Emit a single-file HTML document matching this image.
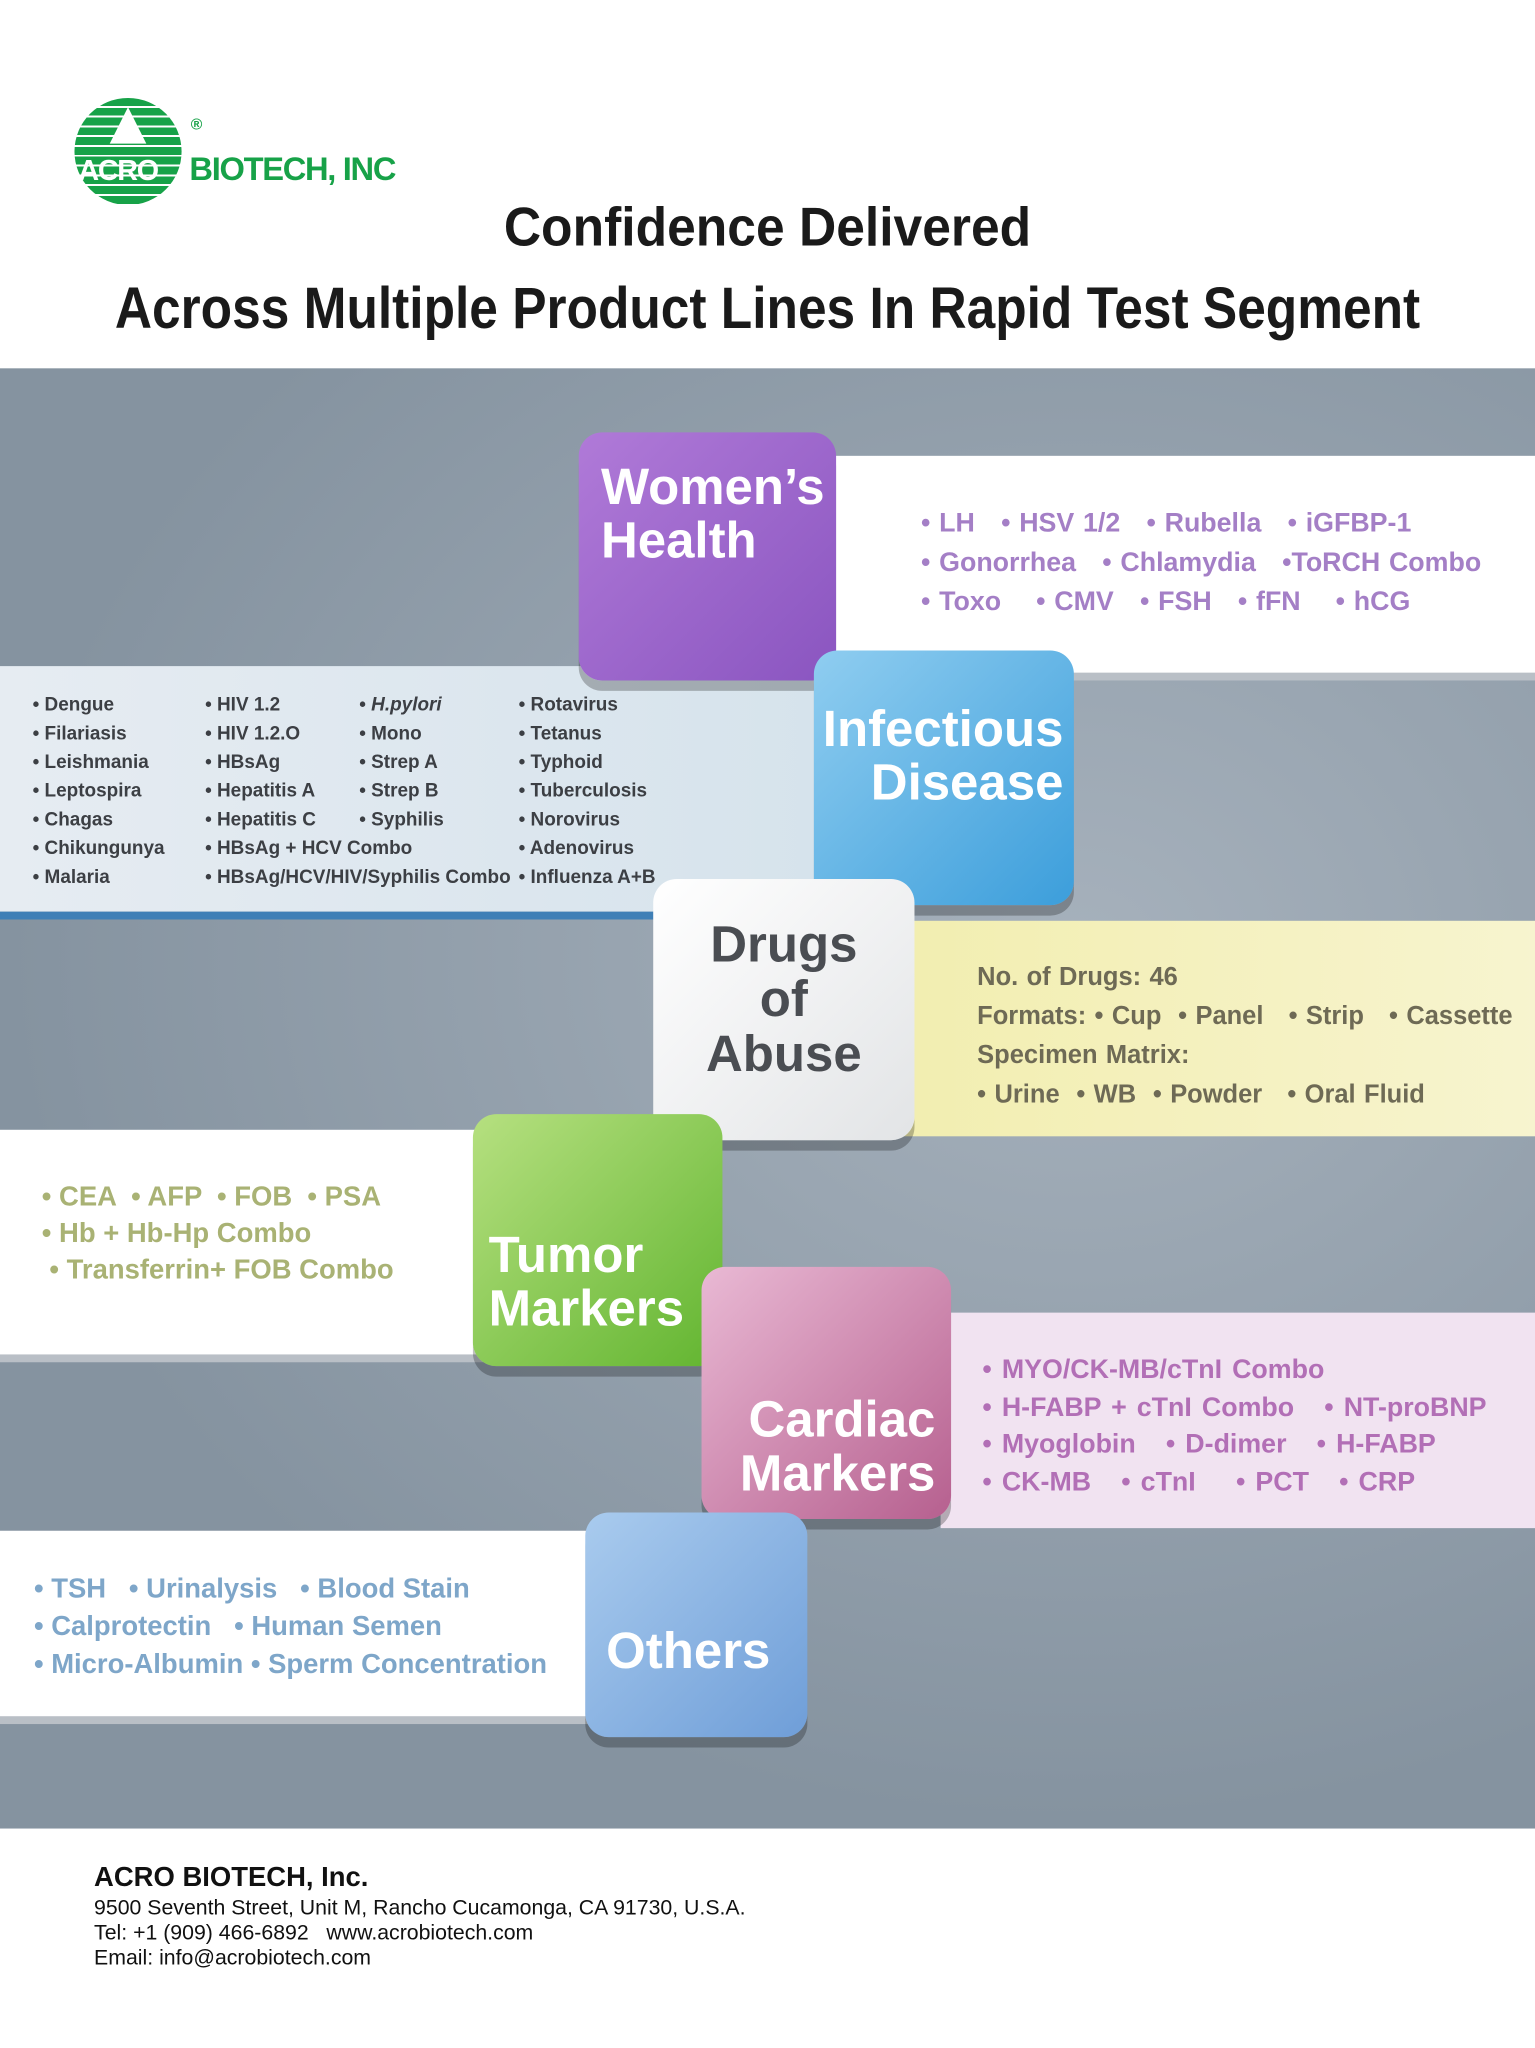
<!DOCTYPE html>
<html><head><meta charset="utf-8"><style>
html,body{margin:0;padding:0;background:#fff;width:1535px;height:2048px;overflow:hidden}
#w{position:absolute;left:0;top:0;width:1175px;height:1568px;transform:scale(1.3064,1.3061);transform-origin:0 0;font-family:"Liberation Sans",sans-serif;font-weight:bold}
.a{position:absolute}
.t{position:absolute;white-space:nowrap}
.box{position:absolute;border-radius:18px;color:#fff;font-size:39px;line-height:41px;box-shadow:0 8px 0 rgba(0,0,0,.25)}
.sm{font-size:14.5px;color:#3c3f44;line-height:22px}
</style></head><body><div id="w">
<!-- logo -->
<div class="a" style="left:57px;top:75px;width:82px;height:82px;border-radius:50%;background:repeating-linear-gradient(#17a248 0 6px,#fff 6px 7.5px)"></div>
<div class="a" style="left:84px;top:82px;width:0;height:0;border-left:14px solid transparent;border-right:14px solid transparent;border-bottom:28px solid #fff"></div>
<div class="t" style="left:60px;top:118px;font-size:22px;color:#fff;letter-spacing:-1px">ACRO</div>
<div class="t" style="left:146px;top:88px;font-size:12px;color:#17a248">®</div>
<div class="t" style="left:145px;top:116px;font-size:25px;color:#17a248;letter-spacing:-1px">BIOTECH, INC</div>
<div class="t" style="left:0;width:1175px;text-align:center;top:150px;font-size:42px;color:#1a1a1a;transform:scaleX(.94)">Confidence Delivered</div>
<div class="t" style="left:0;width:1175px;text-align:center;top:210px;font-size:45px;color:#1a1a1a;transform:scaleX(.875)">Across Multiple Product Lines In Rapid Test Segment</div>
<!-- gray band -->
<div class="a" style="left:0;top:282px;width:1175px;height:1118px;background:radial-gradient(ellipse at 70% 40%,#a6b1bc,#8593a0 70%)"></div>
<!-- women's band -->
<div class="a" style="left:620px;top:349px;width:555px;height:166px;background:#fff;box-shadow:0 6px 0 #b9bfc6"></div>
<div class="t" style="left:705px;top:386px;font-size:20.5px;color:#a47fc6;line-height:30px;word-spacing:1px">• LH &nbsp;&nbsp;• HSV 1/2 &nbsp;&nbsp;• Rubella &nbsp;&nbsp;• iGFBP-1<br>• Gonorrhea &nbsp;&nbsp;• Chlamydia &nbsp;&nbsp;•ToRCH Combo<br>• Toxo &nbsp;&nbsp;&nbsp;• CMV &nbsp;&nbsp;• FSH &nbsp;&nbsp;• fFN &nbsp;&nbsp;&nbsp;• hCG</div>
<!-- infectious band -->
<div class="a" style="left:0;top:510px;width:630px;height:188px;background:linear-gradient(90deg,#e6ecf2,#d6e3ec);border-bottom:6px solid #3f7fb6"></div>
<div class="t sm" style="left:25px;top:529px">• Dengue<br>• Filariasis<br>• Leishmania<br>• Leptospira<br>• Chagas<br>• Chikungunya<br>• Malaria</div>
<div class="t sm" style="left:157px;top:529px">• HIV 1.2<br>• HIV 1.2.O<br>• HBsAg<br>• Hepatitis A<br>• Hepatitis C<br>• HBsAg + HCV Combo<br>• HBsAg/HCV/HIV/Syphilis Combo</div>
<div class="t sm" style="left:275px;top:529px">• <i>H.pylori</i><br>• Mono<br>• Strep A<br>• Strep B<br>• Syphilis</div>
<div class="t sm" style="left:397px;top:529px">• Rotavirus<br>• Tetanus<br>• Typhoid<br>• Tuberculosis<br>• Norovirus<br>• Adenovirus<br>• Influenza A+B</div>
<!-- drugs band -->
<div class="a" style="left:690px;top:705px;width:485px;height:165px;background:linear-gradient(90deg,#f2eeb0,#f7f4cf)"></div>
<div class="t" style="left:748px;top:733px;font-size:19.5px;color:#6e6a55;line-height:30px;word-spacing:1px">No. of Drugs: 46<br>Formats: • Cup &nbsp;• Panel &nbsp;&nbsp;• Strip &nbsp;&nbsp;• Cassette<br>Specimen Matrix:<br>• Urine &nbsp;• WB &nbsp;• Powder &nbsp;&nbsp;• Oral Fluid</div>
<!-- tumor band -->
<div class="a" style="left:0;top:865px;width:370px;height:172px;background:#fff;box-shadow:0 6px 0 #b9bfc6"></div>
<div class="t" style="left:32px;top:903px;font-size:21px;color:#a9b274;line-height:28px">• CEA &nbsp;• AFP &nbsp;• FOB &nbsp;• PSA<br>• Hb + Hb-Hp Combo<br>&nbsp;• Transferrin+ FOB Combo</div>
<!-- cardiac band -->
<div class="a" style="left:720px;top:1005px;width:455px;height:165px;background:#f1e3f1"></div>
<div class="t" style="left:752px;top:1035px;font-size:20.5px;color:#b26fb6;line-height:28.5px;word-spacing:2px">• MYO/CK-MB/cTnI Combo<br>• H-FABP + cTnI Combo &nbsp;&nbsp;• NT-proBNP<br>• Myoglobin &nbsp;&nbsp;• D-dimer &nbsp;&nbsp;• H-FABP<br>• CK-MB &nbsp;&nbsp;• cTnI &nbsp;&nbsp;&nbsp;• PCT &nbsp;&nbsp;• CRP</div>
<!-- others band -->
<div class="a" style="left:0;top:1172px;width:455px;height:142px;background:#fff;box-shadow:0 6px 0 #b9bfc6"></div>
<div class="t" style="left:26px;top:1202px;font-size:21px;color:#7ea6c9;line-height:29px">• TSH &nbsp;&nbsp;• Urinalysis &nbsp;&nbsp;• Blood Stain<br>• Calprotectin &nbsp;&nbsp;• Human Semen<br>• Micro-Albumin • Sperm Concentration</div>
<!-- boxes -->
<div class="box" style="left:443px;top:331px;width:197px;height:190px;background:linear-gradient(135deg,#b07ad8,#8a55c0)"><div class="t" style="left:17px;top:22px">Women’s<br>Health</div></div>
<div class="box" style="left:623px;top:498px;width:199px;height:195px;background:linear-gradient(135deg,#8fcdf0,#3c9edb)"><div class="t" style="right:8px;top:40px;text-align:right">Infectious<br>Disease</div></div>
<div class="box" style="left:500px;top:673px;width:200px;height:200px;background:linear-gradient(135deg,#ffffff,#e2e4e6);color:#4a4d52"><div class="t" style="left:0;width:200px;text-align:center;top:30px;line-height:42px">Drugs<br>of<br>Abuse</div></div>
<div class="box" style="left:362px;top:853px;width:191px;height:193px;background:linear-gradient(135deg,#b6e080,#62b530)"><div class="t" style="left:12px;top:88px">Tumor<br>Markers</div></div>
<div class="box" style="left:537px;top:970px;width:191px;height:193px;background:linear-gradient(135deg,#e9b9d4,#b6608f)"><div class="t" style="right:12px;top:97px;text-align:right">Cardiac<br>Markers</div></div>
<div class="box" style="left:448px;top:1158px;width:170px;height:172px;background:linear-gradient(135deg,#a9cbee,#6f9ed8)"><div class="t" style="left:16px;top:86px">Others</div></div>
<!-- footer -->
<div class="t" style="left:72px;top:1426px;font-size:21px;color:#111">ACRO BIOTECH, Inc.</div>
<div class="t" style="left:72px;top:1452px;font-size:16.3px;font-weight:normal;color:#111;line-height:19px">9500 Seventh Street, Unit M, Rancho Cucamonga, CA 91730, U.S.A.<br>Tel: +1 (909) 466-6892 &nbsp;&nbsp;www.acrobiotech.com<br>Email: info@acrobiotech.com</div>
</div></body></html>
